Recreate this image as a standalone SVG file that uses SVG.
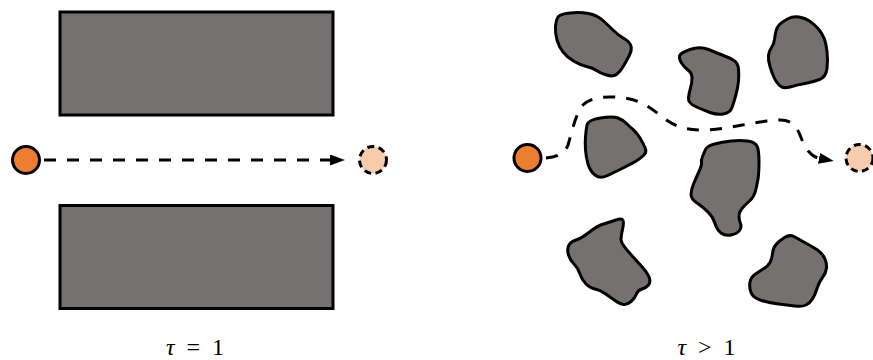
<svg xmlns="http://www.w3.org/2000/svg" width="873" height="360" viewBox="0 0 873 360">
<style>
.bar{fill:#767171;stroke:#000;stroke-width:3}
.rock{fill:#767171;stroke:#000;stroke-width:3;stroke-linejoin:round}
.start{fill:#ED7D31;stroke:#000;stroke-width:3}
.goal{fill:#F8CBAD;stroke:#000;stroke-width:3;stroke-dasharray:7 4.5}
.path{fill:none;stroke:#000;stroke-width:3;stroke-dasharray:12 11}
.lbl{font-family:"Liberation Serif","DejaVu Serif",serif;font-size:24px;fill:#000}
</style>
<defs>
<marker id="arr" markerUnits="userSpaceOnUse" markerWidth="17" markerHeight="12" refX="1" refY="5.5" orient="auto">
<path d="M0,0 L15,5.5 L0,11 Z" fill="#000"/>
</marker>
</defs>
<g id="left-panel">
<g id="bar-top"><rect class="bar" x="60" y="12" width="273" height="103"/></g>
<g id="bar-bottom"><rect class="bar" x="60" y="205.5" width="273" height="103"/></g>
<g id="start-left"><circle class="start" cx="26" cy="160" r="13.5"/></g>
<g id="goal-left"><circle class="goal" cx="373" cy="160" r="13.5"/></g>
</g>
<g id="right-panel">
<g id="rock1"><path class="rock" d="M558,17 Q560,14 570,13 Q580,12 588.5,13.5 Q597,15 603.5,21 Q610,27 614,31 Q618,35 624,38.5 Q630,42 631,46 Q632,50 629.5,55 Q627,60 623.5,66 Q620,72 616.5,74.5 Q613,77 606.5,75 Q600,73 596.5,70.5 Q593,68 586.5,66.5 Q580,65 573.5,61 Q567,57 563,52 Q559,47 557,40 Q555,33 555.5,26.5 Q556,20 558,17 Z"/></g>
<g id="rock2"><path class="rock" d="M690,49.5 Q700,46 708.5,49.5 Q717,53 723.5,55.5 Q730,58 734,60.5 Q738,63 738.5,69 Q739,75 738.5,81 Q738,87 736,94.5 Q734,102 732,107.5 Q730,113 723.5,114 Q717,115 710,112.5 Q703,110 695.5,106.5 Q688,103 688.5,98 Q689,93 690.5,88 Q692,83 692,78 Q692,73 688,70 Q684,67 681.5,63 Q679,59 679.5,56 Q680,53 690,49.5 Z"/></g>
<g id="rock3"><path class="rock" d="M787.5,19 Q793,16 799,17 Q805,18 809.5,21 Q814,24 818,28.5 Q822,33 824,38 Q826,43 827,51.5 Q828,60 827,68.5 Q826,77 819.5,79.5 Q813,82 805,83.5 Q797,85 790,87 Q783,89 779.5,85.5 Q776,82 774,77.5 Q772,73 770,66.5 Q768,60 768.5,55.5 Q769,51 771.5,47.5 Q774,44 774.5,39.5 Q775,35 776,31 Q777,27 779.5,24.5 Q782,22 787.5,19 Z"/></g>
<g id="rock4"><path class="rock" d="M600.5,118 Q613,116 618,118 Q623,120 626.5,123.5 Q630,127 633.5,130 Q637,133 640,138 Q643,143 645,147.5 Q647,152 644,155 Q641,158 637,160.5 Q633,163 623,168 Q613,173 606.5,176 Q600,179 595,175 Q590,171 588,164 Q586,157 585.5,150 Q585,143 585.5,136.5 Q586,130 587,125 Q588,120 600.5,118 Z"/></g>
<g id="rock5"><path class="rock" d="M714.5,144 Q722,142 731,141 Q740,140 747.5,141 Q755,142 757,146 Q759,150 759,161.5 Q759,173 758,179 Q757,185 755.5,191 Q754,197 749.5,201 Q745,205 742,208.5 Q739,212 739,216 Q739,220 740.5,223.5 Q742,227 739.5,230.5 Q737,234 731,235 Q725,236 721,233 Q717,230 715,223.5 Q713,217 708,212 Q703,207 697,203 Q691,199 691,194.5 Q691,190 693.5,184 Q696,178 699,171.5 Q702,165 701.5,162.5 Q701,160 702.5,156.5 Q704,153 705.5,149.5 Q707,146 714.5,144 Z"/></g>
<g id="rock6"><path class="rock" d="M576,240 Q582,238 589.5,232 Q597,226 603.5,224 Q610,222 616,220 Q622,218 623,220.5 Q624,223 622.5,229.5 Q621,236 621,239.5 Q621,243 627,250 Q633,257 640,264.5 Q647,272 649,277 Q651,282 648.5,285 Q646,288 642,289 Q638,290 636.5,294 Q635,298 631,301.5 Q627,305 623.5,304.5 Q620,304 615,300.5 Q610,297 605,293.5 Q600,290 595,289 Q590,288 586,284 Q582,280 580,274 Q578,268 574,264 Q570,260 568.5,255 Q567,250 568.5,246 Q570,242 576,240 Z"/></g>
<g id="rock7"><path class="rock" d="M795,237 Q800,240 806.5,243.5 Q813,247 817.5,250 Q822,253 824.5,258 Q827,263 826.5,268 Q826,273 822.5,277.5 Q819,282 817,288.5 Q815,295 812.5,299 Q810,303 806,305 Q802,307 794.5,306 Q787,305 778.5,304 Q770,303 761.5,300.5 Q753,298 751,292.5 Q749,287 750,282 Q751,277 755.5,274 Q760,271 764,268.5 Q768,266 770,262.5 Q772,259 772.5,253.5 Q773,248 776,244.5 Q779,241 784.5,237.5 Q790,234 795,237 Z"/></g>
<g id="start-right"><circle class="start" cx="527.5" cy="158" r="13.5"/></g>
<g id="goal-right"><circle class="goal" cx="859.5" cy="158" r="13.5"/></g>
</g>
<g id="connectors">
<line class="path" x1="44" y1="160" x2="331" y2="160" marker-end="url(#arr)"/>
<path class="path" d="M546,158 C558,157 565,153 568,145 C572,132 575,115 583,105 C592,96 610,96 625,98 C645,101 655,112 668,121 C680,129 690,130 705,130 C730,129 755,121 780,120 C795,120 798,130 802,140 C806,150 812,157 820,158.5" marker-end="url(#arr)"/>
</g>
<g id="labels">
<text class="lbl" x="195" y="355" text-anchor="middle" word-spacing="6"><tspan font-style="italic">τ</tspan> = 1</text>
<text class="lbl" x="706.5" y="355" text-anchor="middle" word-spacing="6"><tspan font-style="italic">τ</tspan> &gt; 1</text>
</g>
</svg>
